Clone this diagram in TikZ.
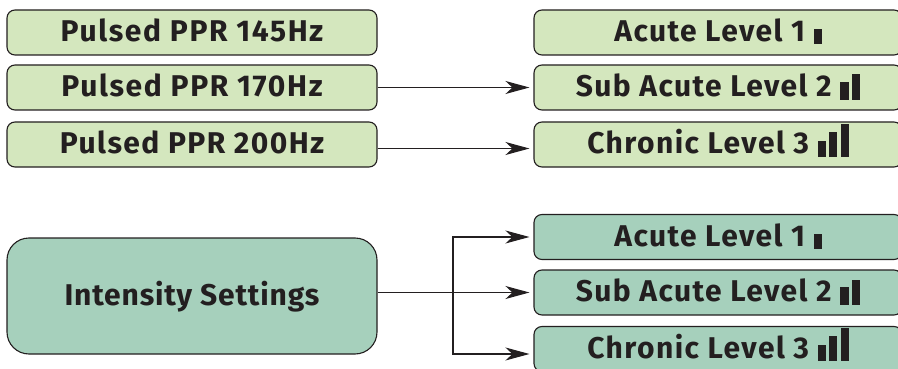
\documentclass[tikz,border=0pt]{standalone}
\usepackage{fontspec}
\setmainfont{Fira Sans}[LetterSpace=4.8]
\usetikzlibrary{arrows.meta}
\definecolor{lightgreen}{HTML}{D4E7BE}
\definecolor{tealgreen}{HTML}{A6D0BC}
\definecolor{inkdark}{HTML}{231F20}
\newcommand{\barA}{\smash{\rule[-3pt]{8pt}{15pt}}}
\newcommand{\barsB}{\smash{\rule[-3pt]{8.5pt}{18pt}\hspace{3pt}\rule[-3pt]{8.5pt}{25pt}}}
\newcommand{\barsC}{\smash{\rule[-3pt]{8.5pt}{16pt}\hspace{3pt}\rule[-3pt]{8pt}{25pt}\hspace{3.5pt}\rule[-3pt]{8pt}{33pt}}}
\tikzset{
  x=1pt,y=-1pt,
  box/.style={draw=inkdark,line width=1.1pt,rounded corners=8pt,inner sep=0pt,
    text height=18pt,text depth=0pt,text=inkdark,
    font=\fontsize{30}{32}\selectfont\bfseries},
  left box/.style={box,fill=lightgreen,minimum width=370pt,minimum height=45pt},
  right box/.style={box,minimum width=368pt,minimum height=45pt},
  big box/.style={box,fill=tealgreen,minimum width=370pt,minimum height=116pt,rounded corners=22pt},
  link/.style={draw=inkdark,line width=1.1pt},
  arrowlink/.style={link,-{Stealth[length=24pt,width=13pt,inset=7pt]},shorten >=4pt}
}
\begin{document}
\begin{tikzpicture}
\useasboundingbox (0,0) rectangle (898,369);
\clip (0,0) rectangle (898,369);
\node[left box] (p1) at (192,32.5) {\addfontfeature{LetterSpace=5.4}Pulsed PPR 145Hz};
\node[left box] (p2) at (192,87.5) {\addfontfeature{LetterSpace=5.4}Pulsed PPR 170Hz};
\node[left box] (p3) at (192,144.5) {Pulsed PPR 200Hz};
\node[right box,fill=lightgreen] (u1) at (718,32.5) {Acute Level 1 \barA};
\node[right box,fill=lightgreen] (u2) at (718,87.5) {Sub Acute Level 2 \barsB};
\node[right box,fill=lightgreen] (u3) at (718,144.5) {Chronic Level 3 \barsC};
\node[big box] (int) at (192,296) {\addfontfeature{LetterSpace=2.8}Intensity Settings};
\node[right box,fill=tealgreen] (l1) at (718,237) {Acute Level 1 \barA};
\node[right box,fill=tealgreen] (l2) at (718,292.5) {Sub Acute Level 2 \barsB};
\node[right box,fill=tealgreen] (l3) at (718,349) {Chronic Level 3 \barsC};
\draw[arrowlink] (p2.east) -- (u2.west);
\draw[arrowlink] ([yshift=-4pt]p3.east) -- ([yshift=-4pt]u3.west);
\draw[arrowlink] ([yshift=3.5pt]int.east) -- (l2.west);
\coordinate (branch) at (453,292.5);
\draw[arrowlink] (branch) |- (l1.west);
\draw[arrowlink] (branch) |- ([yshift=-5pt]l3.west);
\end{tikzpicture}
\end{document}
